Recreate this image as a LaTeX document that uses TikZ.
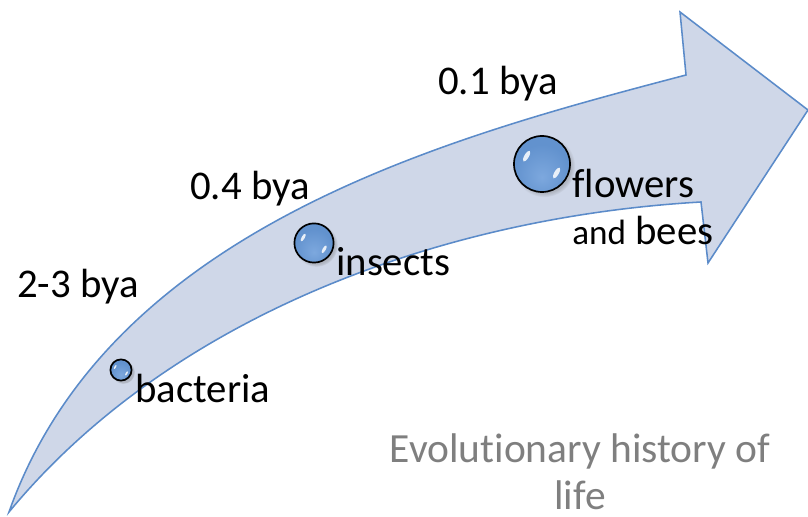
\documentclass[tikz,border=0pt]{standalone}
\usepackage{fontspec}
\setmainfont{Carlito}[Ligatures=NoCommon]
\usetikzlibrary{shadows}
\definecolor{arrowfill}{RGB}{207,215,232}
\definecolor{arrowline}{RGB}{91,139,201}
\definecolor{ballcore}{RGB}{125,168,222}
\definecolor{ballmid}{RGB}{98,146,206}
\definecolor{balledge}{RGB}{66,110,178}
\definecolor{captiongray}{RGB}{127,127,127}
\pgfdeclareradialshading{glassball}{\pgfpoint{0bp}{-12bp}}{%
  color(0bp)=(ballcore); color(25bp)=(ballmid);
  color(48bp)=(ballmid); color(62bp)=(balledge); color(70bp)=(balledge)}

\begin{document}
\begin{tikzpicture}[x=0.025cm,y=0.025cm,
    lbl/.style={anchor=base west,inner sep=0pt,
      font=\fontsize{29}{34}\selectfont},
    ball/.style={circle,inner sep=0pt,minimum size=2*#1,draw=black,
      line width=1.2pt,shading=glassball,
      circular drop shadow={shadow xshift=1.5pt,shadow yshift=-1.5pt,
        opacity=0.3,fill=black!60}},
    gloss/.style={white,opacity=0.85}]
  \useasboundingbox (0,0) rectangle (808,517);
  % curved arrow
  \draw[fill=arrowfill,draw=arrowline,line width=1.1pt,line join=miter]
    (9,5) .. controls (110,290) and (450,380) .. (686,442)
    -- (680,505) -- (808,407) -- (708,254) -- (701,315)
    .. controls (440,300) and (170,200) .. (9,5) -- cycle;
  % spheres
  \node[ball=0.265cm] (bacteriaball) at (121,147) {};
  \node[ball=0.49cm] (insectsball) at (314,274) {};
  \node[ball=0.70cm] (flowersball) at (542,353) {};
  \foreach \b/\r in {bacteriaball/0.265,insectsball/0.49,flowersball/0.70}{
    \begin{scope}[shift={(\b.center)},x=\r cm,y=\r cm]
      \fill[gloss,shift={(-0.55,0.28)},rotate=60] (0,0) ellipse (0.22 and 0.08);
      \fill[gloss,shift={(0.52,-0.32)},rotate=60] (0,0) ellipse (0.22 and 0.08);
    \end{scope}}
  % labels
  \node[lbl] (bya23) at (17,219) {2-3 bya};
  \node[lbl] (bya04) at (190,317) {0.4 bya};
  \node[lbl] (bya01) at (438,422) {0.1 bya};
  \node[lbl] (bacteria) at (135,114) {bacteria};
  \node[lbl] (insects) at (336,241) {insects};
  \node[lbl] (flowers) at (572,319) {flowers};
  \node[lbl] (bees) at (572,272) {{\fontsize{25}{30}\selectfont and} bees};
  \node[anchor=base,inner sep=0pt,align=center,text=captiongray,
    font=\fontsize{29.5}{34.1}\selectfont] (caption) at (580,7)
    {Evolutionary history of\\life};
\end{tikzpicture}
\end{document}
